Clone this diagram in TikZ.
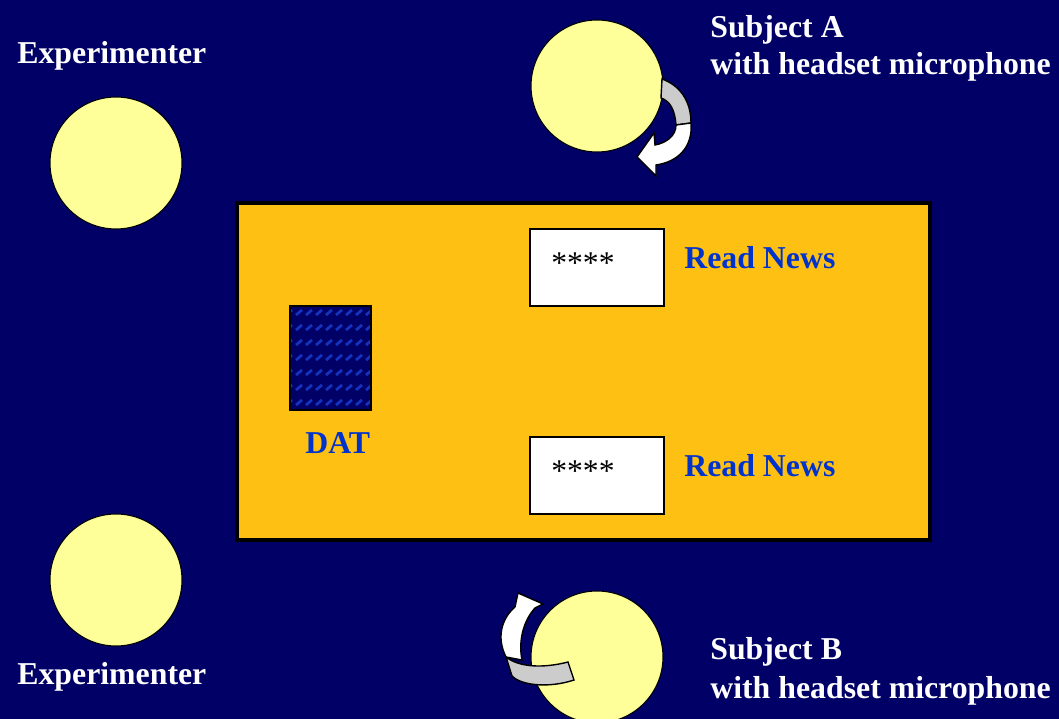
\documentclass[tikz,border=0pt]{standalone}
\usepackage{fontspec}
\setmainfont{Liberation Serif}
\usepackage{tikz}
\usetikzlibrary{positioning}
\definecolor{navy}{RGB}{0,0,102}
\definecolor{pale}{RGB}{255,255,153}
\definecolor{desk}{RGB}{255,192,20}
\definecolor{newsblue}{RGB}{0,51,204}
\definecolor{stripe}{RGB}{20,50,190}
\definecolor{ribbon}{RGB}{204,204,204}
\begin{document}
\begin{tikzpicture}[x=0.02cm,y=-0.02cm,
  person/.style={circle,draw=black,fill=pale,line width=0.6pt,minimum size=2.64cm,inner sep=0pt},
  whitelabel/.style={anchor=base west,text=white,inner sep=0pt,font=\fontsize{18.1}{20}\selectfont\bfseries},
  bluelabel/.style={anchor=base west,text=newsblue,inner sep=0pt,font=\fontsize{18.1}{20}\selectfont\bfseries},
  paper/.style={draw=black,fill=white,line width=1pt}]
\useasboundingbox (0,0) rectangle (1059,719);
\fill [navy] (0,0) rectangle (1059,719);
% table
\draw [fill=desk,line width=2pt] (237,203) rectangle (930,540);
% people
\node [person] (expA) at (116,163) {};
\node [person] (expB) at (116,580) {};
\node [person] (subA) at (597,86) {};
\node [person] (subB) at (597,657) {};
% turning arrows
\draw [fill=ribbon,line width=0.8pt] (662,79) .. controls (679,85) and (691,100) .. (691,123) -- (676,125) .. controls (675,110) and (670,101) .. (661,98) -- cycle;
\draw [fill=white,line width=0.8pt] (676,125) -- (691,123) .. controls (693,148) and (677,162) .. (656,165) -- (656,176) -- (637,157) -- (654,133) -- (655,145) .. controls (666,143) and (676,136) .. (676,125) -- cycle;
\draw [fill=white,line width=0.8pt] (506,657) .. controls (496,637) and (502,618) .. (515,607) -- (518,593) -- (543,604) -- (535,608) .. controls (524,620) and (518,640) .. (522,660) -- cycle;
\draw [fill=ribbon,line width=0.8pt] (506,657) .. controls (520,668) and (545,668) .. (568,662) -- (574,680) .. controls (550,688) and (522,686) .. (512,676) -- cycle;
% news sheets
\draw [paper] (530,229) rectangle (664,306);
\draw [paper] (530,437) rectangle (664,514);
\node [anchor=base west,inner sep=0pt,font=\fontsize{18}{20}\selectfont] (starsA) at (551,274) {****};
\node [anchor=base west,inner sep=0pt,font=\fontsize{18}{20}\selectfont] (starsB) at (551,482) {****};
% DAT recorder
\fill [navy] (290,306) rectangle (371,410);
\begin{scope}
\clip (290,306) rectangle (371,410);
\foreach \y in {315,330,...,405}
  \foreach \x in {286,296,...,376}
    \draw [stripe,line width=1.6pt] (\x,\y) -- (\x+6,\y-5);
\end{scope}
\draw [line width=1pt] (290,306) rectangle (371,410);
% labels
\node [whitelabel] (expAtxt) at (17,64) {Experimenter};
\node [whitelabel] (expBtxt) at (17,684) {Experimenter};
\node [whitelabel] (subAtxt) at (710,38) {Subject A};
\node [whitelabel] (subAmic) at (710,75) {with headset microphone};
\node [whitelabel] (subBtxt) at (710,660) {Subject B};
\node [whitelabel] (subBmic) at (710,698) {with headset microphone};
\node [bluelabel] (newsA) at (684,269) {Read News};
\node [bluelabel] (newsB) at (684,477) {Read News};
\node [bluelabel] (dat) at (305,454) {DAT};
\end{tikzpicture}
\end{document}
